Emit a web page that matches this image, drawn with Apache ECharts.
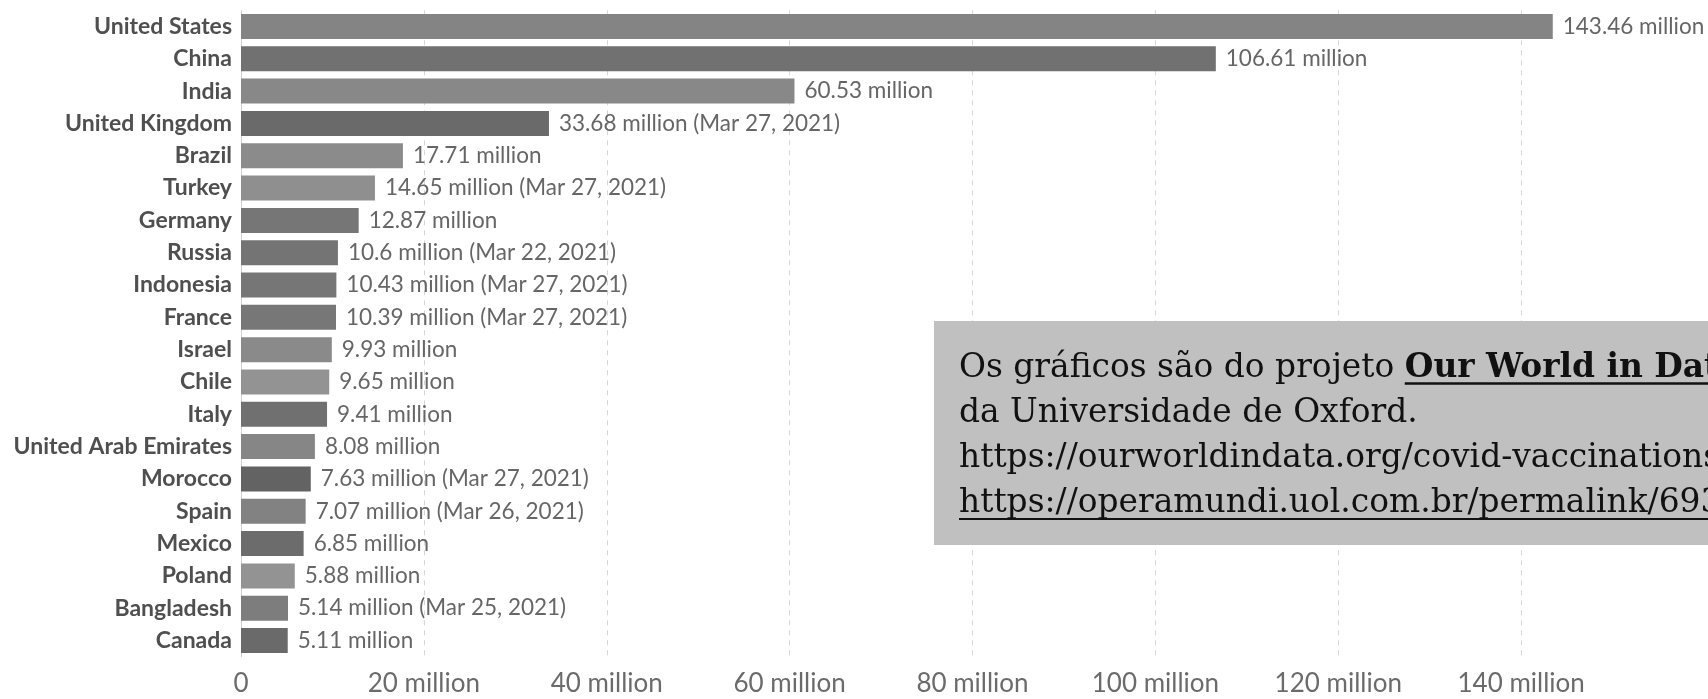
<!DOCTYPE html>
<html>
<head>
<meta charset="utf-8">
<script src="https://cdn.jsdelivr.net/npm/echarts@6/dist/echarts.min.js"></script>
<style>
html,body{margin:0;padding:0;background:#fff;}
#chart{width:1708px;height:699px;}
</style>
</head>
<body>
<div id="chart"></div>
<script>
const countries = ['United States','China','India','United Kingdom','Brazil','Turkey','Germany','Russia','Indonesia','France','Israel','Chile','Italy','United Arab Emirates','Morocco','Spain','Mexico','Poland','Bangladesh','Canada'];
const valuesMillions = [143.46,106.61,60.53,33.68,17.71,14.65,12.87,10.6,10.43,10.39,9.93,9.65,9.41,8.08,7.63,7.07,6.85,5.88,5.14,5.11];
const dateNotes = ['','','','Mar 27, 2021','','Mar 27, 2021','','Mar 22, 2021','Mar 27, 2021','Mar 27, 2021','','','','','Mar 27, 2021','Mar 26, 2021','','','Mar 25, 2021',''];
const barColors = ['#848484','#717171','#888888','#6a6a6a','#8b8b8b','#8f8f8f','#767676','#747474','#767676','#777777','#8a8a8a','#939393','#707070','#868686','#636363','#828282','#6c6c6c','#939393','#7d7d7d','#6a6a6a'];
const xTicks = [0,20,40,60,80,100,120,140,160];

const noteLines = [
  'Os gráficos são do projeto ',
  'Our World in Data',
  'da Universidade de Oxford.',
  'https://ourworldindata.org/covid-vaccinations',
  'https://operamundi.uol.com.br/permalink/69381'
];

const chart = echarts.init(document.getElementById('chart'), null, {renderer:'canvas'});

const serif = '"DejaVu Serif", "Liberation Serif", serif';
const mctx = document.createElement('canvas').getContext('2d');
mctx.font = '36px "DejaVu Serif"';
const w36 = mctx.measureText(noteLines[2]).width;
const fs = Math.max(28, Math.min(40, 36 * 459 / w36));
mctx.font = fs + 'px "DejaVu Serif"';
const firstW = mctx.measureText(noteLines[0]).width;

const textLeft = 959;

const option = {
  animation: false,
  backgroundColor: '#ffffff',
  grid: {left: 241, right: 4, top: 10.3, bottom: 42.3, outerBoundsMode: 'none'},
  xAxis: {
    type: 'value',
    min: xTicks[0], max: xTicks[xTicks.length-1], interval: xTicks[1]-xTicks[0],
    axisLine: {show: false},
    axisTick: {show: false},
    splitLine: {show: true, showMinLine: false, showMaxLine: false,
      lineStyle: {color: '#d6d6d6', width: 1, type: [5,5]}},
    axisLabel: {
      showMaxLabel: false,
      margin: 14,
      color: '#6b6b6b', fontFamily: 'Lato', fontSize: 26,
      formatter: v => v === 0 ? '0' : v + ' million'
    }
  },
  yAxis: {
    type: 'category',
    inverse: true,
    data: countries,
    axisTick: {show: false},
    axisLine: {show: true, lineStyle: {color: '#d0d0d0', width: 1}},
    axisLabel: {
      margin: 9,
      color: '#4f4f4f', fontFamily: 'Lato', fontWeight: 'bold', fontSize: 23
    }
  },
  series: [{
    type: 'bar',
    data: valuesMillions.map((v,i) => ({value: v, itemStyle: {color: barColors[i]}})),
    barWidth: 25,
    label: {
      show: true, position: 'right', distance: 10,
      color: '#666666', fontFamily: 'Lato', fontSize: 22.5,
      formatter: p => p.value + ' million' + (dateNotes[p.dataIndex] ? ' (' + dateNotes[p.dataIndex] + ')' : '')
    }
  }],
  graphic: [
    {type: 'rect', z: 100, shape: {x: 934, y: 321, width: 800, height: 224}, style: {fill: '#c0c0c0'}},
    {type: 'text', z: 101, x: textLeft, y: 368, style: {
      text: '{r|' + noteLines[0] + '}{b|' + noteLines[1] + '}',
      verticalAlign: 'middle', fill: '#111',
      rich: {
        r: {fontFamily: serif, fontSize: fs, fill: '#111'},
        b: {fontFamily: serif, fontSize: fs, fontWeight: 'bold', fill: '#111'}
      }
    }},
    {type: 'line', z: 101, shape: {x1: textLeft + firstW, y1: 383.5, x2: 1720, y2: 383.5}, style: {stroke: '#111', lineWidth: 2.5}},
    {type: 'text', z: 101, x: textLeft, y: 413, style: {text: noteLines[2], fontFamily: serif, fontSize: fs, fill: '#111', verticalAlign: 'middle'}},
    {type: 'text', z: 101, x: textLeft, y: 458, style: {text: noteLines[3], fontFamily: serif, fontSize: fs, fill: '#111', verticalAlign: 'middle'}},
    {type: 'text', z: 101, x: textLeft, y: 503, style: {text: noteLines[4], fontFamily: serif, fontSize: fs, fill: '#111', verticalAlign: 'middle'}},
    {type: 'line', z: 101, shape: {x1: textLeft, y1: 519, x2: 1720, y2: 519}, style: {stroke: '#111', lineWidth: 2}}
  ]
};
chart.setOption(option);
</script>
</body>
</html>
